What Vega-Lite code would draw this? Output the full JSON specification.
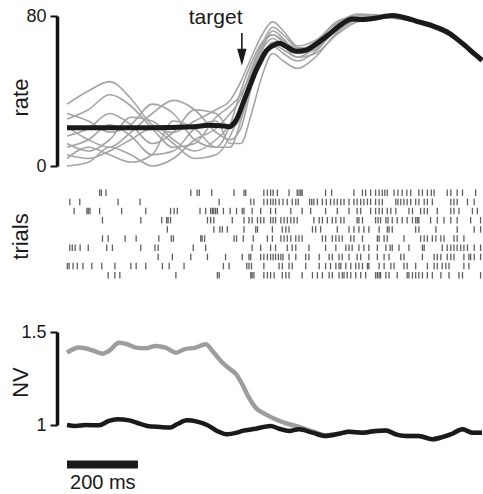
{
"$schema": "https://vega.github.io/schema/vega-lite/v6.json",
"padding": {"left": 9, "top": 5, "right": 0, "bottom": 5},
"bounds": "flush",
"spacing": 20,
"config": {
  "view": {"stroke": null},
  "font": "Liberation Sans",
  "axisY": {"domainWidth": 3.5, "domainColor": "#111", "domainCap": "butt", "tickColor": "#111", "tickWidth": 2, "tickSize": 7, "offset": 10, "grid": false,
    "labelFont": "Liberation Sans", "labelFontSize": 18, "labelColor": "#1a1a1a", "labelPadding": 4,
    "titleFont": "Liberation Sans", "titleFontSize": 22, "titleFontWeight": "normal", "titleColor": "#1a1a1a", "titleX": -30, "titleBaseline": "alphabetic"}
},
"datasets": {
  "gray": [
    {"id":1,"t":0,"v":33},{"id":1,"t":60,"v":40},{"id":1,"t":120,"v":45},{"id":1,"t":180,"v":36},{"id":1,"t":240,"v":22},{"id":1,"t":300,"v":18},{"id":1,"t":360,"v":24},{"id":1,"t":420,"v":30},{"id":1,"t":460,"v":35},{"id":1,"t":490,"v":45},{"id":1,"t":520,"v":58},{"id":1,"t":550,"v":70},{"id":1,"t":580,"v":77},{"id":1,"t":610,"v":72},{"id":1,"t":650,"v":64},{"id":1,"t":700,"v":67},{"id":1,"t":760,"v":76},{"id":1,"t":820,"v":81},{"id":1,"t":900,"v":80},{"id":1,"t":1000,"v":77},{"id":1,"t":1100,"v":68},{"id":1,"t":1170,"v":57},
    {"id":2,"t":0,"v":28},{"id":2,"t":60,"v":24},{"id":2,"t":120,"v":18},{"id":2,"t":180,"v":22},{"id":2,"t":240,"v":33},{"id":2,"t":300,"v":28},{"id":2,"t":360,"v":14},{"id":2,"t":420,"v":10},{"id":2,"t":460,"v":22},{"id":2,"t":490,"v":40},{"id":2,"t":520,"v":55},{"id":2,"t":550,"v":66},{"id":2,"t":580,"v":70},{"id":2,"t":610,"v":66},{"id":2,"t":650,"v":62},{"id":2,"t":700,"v":64},{"id":2,"t":760,"v":74},{"id":2,"t":820,"v":79},{"id":2,"t":900,"v":80},{"id":2,"t":1000,"v":77},{"id":2,"t":1100,"v":68},{"id":2,"t":1170,"v":56},
    {"id":3,"t":0,"v":25},{"id":3,"t":60,"v":30},{"id":3,"t":120,"v":38},{"id":3,"t":180,"v":32},{"id":3,"t":240,"v":20},{"id":3,"t":300,"v":10},{"id":3,"t":360,"v":12},{"id":3,"t":420,"v":26},{"id":3,"t":460,"v":32},{"id":3,"t":490,"v":38},{"id":3,"t":520,"v":50},{"id":3,"t":550,"v":60},{"id":3,"t":580,"v":65},{"id":3,"t":610,"v":62},{"id":3,"t":650,"v":58},{"id":3,"t":700,"v":63},{"id":3,"t":760,"v":72},{"id":3,"t":820,"v":78},{"id":3,"t":900,"v":80},{"id":3,"t":1000,"v":76},{"id":3,"t":1100,"v":67},{"id":3,"t":1170,"v":56},
    {"id":4,"t":0,"v":21},{"id":4,"t":60,"v":14},{"id":4,"t":120,"v":10},{"id":4,"t":180,"v":18},{"id":4,"t":240,"v":28},{"id":4,"t":300,"v":35},{"id":4,"t":360,"v":30},{"id":4,"t":420,"v":18},{"id":4,"t":460,"v":14},{"id":4,"t":490,"v":20},{"id":4,"t":520,"v":42},{"id":4,"t":550,"v":58},{"id":4,"t":580,"v":66},{"id":4,"t":610,"v":66},{"id":4,"t":650,"v":62},{"id":4,"t":700,"v":66},{"id":4,"t":760,"v":77},{"id":4,"t":820,"v":80},{"id":4,"t":900,"v":80.5},{"id":4,"t":1000,"v":77},{"id":4,"t":1100,"v":68},{"id":4,"t":1170,"v":56},
    {"id":5,"t":0,"v":16},{"id":5,"t":60,"v":20},{"id":5,"t":120,"v":28},{"id":5,"t":180,"v":22},{"id":5,"t":240,"v":12},{"id":5,"t":300,"v":18},{"id":5,"t":360,"v":30},{"id":5,"t":420,"v":28},{"id":5,"t":460,"v":20},{"id":5,"t":490,"v":26},{"id":5,"t":520,"v":45},{"id":5,"t":550,"v":62},{"id":5,"t":580,"v":72},{"id":5,"t":610,"v":68},{"id":5,"t":650,"v":60},{"id":5,"t":700,"v":62},{"id":5,"t":760,"v":73},{"id":5,"t":820,"v":79},{"id":5,"t":900,"v":79},{"id":5,"t":1000,"v":76},{"id":5,"t":1100,"v":67},{"id":5,"t":1170,"v":56},
    {"id":6,"t":0,"v":12},{"id":6,"t":60,"v":8},{"id":6,"t":120,"v":14},{"id":6,"t":180,"v":26},{"id":6,"t":240,"v":24},{"id":6,"t":300,"v":14},{"id":6,"t":360,"v":8},{"id":6,"t":420,"v":14},{"id":6,"t":460,"v":22},{"id":6,"t":490,"v":30},{"id":6,"t":520,"v":48},{"id":6,"t":550,"v":62},{"id":6,"t":580,"v":68},{"id":6,"t":610,"v":64},{"id":6,"t":650,"v":58},{"id":6,"t":700,"v":60},{"id":6,"t":760,"v":70},{"id":6,"t":820,"v":77},{"id":6,"t":900,"v":79},{"id":6,"t":1000,"v":77},{"id":6,"t":1100,"v":68},{"id":6,"t":1170,"v":56},
    {"id":7,"t":0,"v":10},{"id":7,"t":60,"v":14},{"id":7,"t":120,"v":22},{"id":7,"t":180,"v":16},{"id":7,"t":240,"v":6},{"id":7,"t":300,"v":8},{"id":7,"t":360,"v":20},{"id":7,"t":420,"v":24},{"id":7,"t":460,"v":12},{"id":7,"t":490,"v":12},{"id":7,"t":520,"v":28},{"id":7,"t":550,"v":48},{"id":7,"t":580,"v":60},{"id":7,"t":610,"v":56},{"id":7,"t":650,"v":52},{"id":7,"t":700,"v":58},{"id":7,"t":760,"v":71},{"id":7,"t":820,"v":78},{"id":7,"t":900,"v":79},{"id":7,"t":1000,"v":76},{"id":7,"t":1100,"v":67},{"id":7,"t":1170,"v":56},
    {"id":8,"t":0,"v":6},{"id":8,"t":60,"v":4},{"id":8,"t":120,"v":8},{"id":8,"t":180,"v":14},{"id":8,"t":240,"v":20},{"id":8,"t":300,"v":12},{"id":8,"t":360,"v":4},{"id":8,"t":420,"v":6},{"id":8,"t":460,"v":16},{"id":8,"t":490,"v":30},{"id":8,"t":520,"v":50},{"id":8,"t":550,"v":64},{"id":8,"t":580,"v":70},{"id":8,"t":610,"v":67},{"id":8,"t":650,"v":62},{"id":8,"t":700,"v":64},{"id":8,"t":760,"v":74},{"id":8,"t":820,"v":79},{"id":8,"t":900,"v":80},{"id":8,"t":1000,"v":77},{"id":8,"t":1100,"v":68},{"id":8,"t":1170,"v":56},
    {"id":9,"t":0,"v":4},{"id":9,"t":60,"v":10},{"id":9,"t":120,"v":6},{"id":9,"t":180,"v":2},{"id":9,"t":240,"v":6},{"id":9,"t":300,"v":24},{"id":9,"t":360,"v":20},{"id":9,"t":420,"v":10},{"id":9,"t":460,"v":10},{"id":9,"t":490,"v":24},{"id":9,"t":520,"v":44},{"id":9,"t":550,"v":58},{"id":9,"t":580,"v":64},{"id":9,"t":610,"v":60},{"id":9,"t":650,"v":56},{"id":9,"t":700,"v":61},{"id":9,"t":760,"v":73},{"id":9,"t":820,"v":78},{"id":9,"t":900,"v":79},{"id":9,"t":1000,"v":76},{"id":9,"t":1100,"v":67},{"id":9,"t":1170,"v":56},
    {"id":10,"t":0,"v":0},{"id":10,"t":60,"v":2},{"id":10,"t":120,"v":10},{"id":10,"t":180,"v":6},{"id":10,"t":240,"v":0},{"id":10,"t":300,"v":4},{"id":10,"t":360,"v":14},{"id":10,"t":420,"v":20},{"id":10,"t":460,"v":28},{"id":10,"t":490,"v":36},{"id":10,"t":520,"v":52},{"id":10,"t":550,"v":65},{"id":10,"t":580,"v":74},{"id":10,"t":610,"v":70},{"id":10,"t":650,"v":63},{"id":10,"t":700,"v":64},{"id":10,"t":760,"v":75},{"id":10,"t":820,"v":80},{"id":10,"t":900,"v":80},{"id":10,"t":1000,"v":77},{"id":10,"t":1100,"v":68},{"id":10,"t":1170,"v":56}
  ],
  "mean": [
    {"t":0,"v":20.4},{"t":231,"v":20.4},{"t":358,"v":20.9},{"t":400,"v":21.7},{"t":434,"v":21.5},{"t":457,"v":21.0},{"t":476,"v":24.2},{"t":499,"v":34.9},{"t":516,"v":43},{"t":533,"v":51},{"t":547,"v":56.4},{"t":561,"v":61.2},{"t":578,"v":63.9},{"t":598,"v":65.5},{"t":617,"v":63.9},{"t":646,"v":61.2},{"t":674,"v":61.8},{"t":702,"v":65},{"t":739,"v":70.3},{"t":775,"v":75.7},{"t":803,"v":78.4},{"t":832,"v":78.1},{"t":871,"v":78.9},{"t":916,"v":80.3},{"t":944,"v":79.5},{"t":984,"v":77.3},{"t":1040,"v":74.1},{"t":1077,"v":70.9},{"t":1114,"v":65.5},{"t":1153,"v":59.1},{"t":1170,"v":56.4}
  ],
  "nv": [
    {"s":"gray","t":0,"v":1.389},{"s":"gray","t":34,"v":1.416},{"s":"gray","t":71,"v":1.402},{"s":"gray","t":100,"v":1.383},{"s":"gray","t":118,"v":1.398},{"s":"gray","t":147,"v":1.442},{"s":"gray","t":170,"v":1.434},{"s":"gray","t":194,"v":1.416},{"s":"gray","t":222,"v":1.412},{"s":"gray","t":250,"v":1.425},{"s":"gray","t":278,"v":1.416},{"s":"gray","t":307,"v":1.389},{"s":"gray","t":330,"v":1.407},{"s":"gray","t":363,"v":1.416},{"s":"gray","t":391,"v":1.434},{"s":"gray","t":410,"v":1.398},{"s":"gray","t":438,"v":1.335},{"s":"gray","t":460,"v":1.3},{"s":"gray","t":476,"v":1.275},{"s":"gray","t":494,"v":1.219},{"s":"gray","t":513,"v":1.147},{"s":"gray","t":532,"v":1.093},{"s":"gray","t":560,"v":1.057},{"s":"gray","t":588,"v":1.031},{"s":"gray","t":621,"v":1.007},{"s":"gray","t":654,"v":0.99},{"s":"gray","t":692,"v":0.966},{"s":"gray","t":729,"v":0.945},{"s":"gray","t":767,"v":0.953},{"s":"gray","t":795,"v":0.964},{"s":"gray","t":833,"v":0.959},{"s":"gray","t":870,"v":0.968},{"s":"gray","t":899,"v":0.971},{"s":"gray","t":927,"v":0.95},{"s":"gray","t":955,"v":0.941},{"s":"gray","t":992,"v":0.941},{"s":"gray","t":1030,"v":0.923},{"s":"gray","t":1058,"v":0.935},{"s":"gray","t":1086,"v":0.953},{"s":"gray","t":1115,"v":0.977},{"s":"gray","t":1143,"v":0.959},{"s":"gray","t":1170,"v":0.959},
    {"s":"black","t":0,"v":1.0},{"s":"black","t":24,"v":0.995},{"s":"black","t":52,"v":1.0},{"s":"black","t":90,"v":0.998},{"s":"black","t":118,"v":1.022},{"s":"black","t":142,"v":1.031},{"s":"black","t":175,"v":1.025},{"s":"black","t":197,"v":1.012},{"s":"black","t":226,"v":0.995},{"s":"black","t":263,"v":0.989},{"s":"black","t":291,"v":0.986},{"s":"black","t":310,"v":1.004},{"s":"black","t":338,"v":1.025},{"s":"black","t":367,"v":1.018},{"s":"black","t":395,"v":1.0},{"s":"black","t":423,"v":0.968},{"s":"black","t":451,"v":0.95},{"s":"black","t":479,"v":0.959},{"s":"black","t":494,"v":0.968},{"s":"black","t":532,"v":0.98},{"s":"black","t":574,"v":0.995},{"s":"black","t":598,"v":0.98},{"s":"black","t":626,"v":0.968},{"s":"black","t":654,"v":0.977},{"s":"black","t":692,"v":0.959},{"s":"black","t":729,"v":0.941},{"s":"black","t":767,"v":0.953},{"s":"black","t":795,"v":0.964},{"s":"black","t":833,"v":0.959},{"s":"black","t":870,"v":0.968},{"s":"black","t":899,"v":0.971},{"s":"black","t":927,"v":0.95},{"s":"black","t":955,"v":0.941},{"s":"black","t":992,"v":0.941},{"s":"black","t":1030,"v":0.923},{"s":"black","t":1058,"v":0.935},{"s":"black","t":1086,"v":0.953},{"s":"black","t":1115,"v":0.977},{"s":"black","t":1143,"v":0.959},{"s":"black","t":1170,"v":0.959}
  ],
  "spikes": [
    {"k":1,"t":92},{"k":1,"t":97},{"k":1,"t":110},{"k":1,"t":349},{"k":1,"t":367},{"k":1,"t":373},{"k":1,"t":408},{"k":1,"t":471},{"k":1,"t":499},{"k":1,"t":504},{"k":1,"t":555},{"k":1,"t":565},{"k":1,"t":574},{"k":1,"t":581},{"k":1,"t":593},{"k":1,"t":626},{"k":1,"t":649},{"k":1,"t":654},{"k":1,"t":659},{"k":1,"t":663},{"k":1,"t":729},{"k":1,"t":746},{"k":1,"t":809},{"k":1,"t":833},{"k":1,"t":842},{"k":1,"t":856},{"k":1,"t":870},{"k":1,"t":880},{"k":1,"t":889},{"k":1,"t":896},{"k":1,"t":903},{"k":1,"t":922},{"k":1,"t":933},{"k":1,"t":945},{"k":1,"t":958},{"k":1,"t":969},{"k":1,"t":992},{"k":1,"t":1002},{"k":1,"t":1016},{"k":1,"t":1027},{"k":1,"t":1035},{"k":1,"t":1072},{"k":1,"t":1082},{"k":1,"t":1100},{"k":1,"t":1115},{"k":1,"t":1152},
    {"k":2,"t":8},{"k":2,"t":36},{"k":2,"t":144},{"k":2,"t":206},{"k":2,"t":429},{"k":2,"t":518},{"k":2,"t":527},{"k":2,"t":555},{"k":2,"t":565},{"k":2,"t":574},{"k":2,"t":581},{"k":2,"t":588},{"k":2,"t":598},{"k":2,"t":609},{"k":2,"t":621},{"k":2,"t":635},{"k":2,"t":645},{"k":2,"t":652},{"k":2,"t":684},{"k":2,"t":690},{"k":2,"t":696},{"k":2,"t":706},{"k":2,"t":720},{"k":2,"t":731},{"k":2,"t":743},{"k":2,"t":753},{"k":2,"t":762},{"k":2,"t":772},{"k":2,"t":781},{"k":2,"t":795},{"k":2,"t":809},{"k":2,"t":818},{"k":2,"t":828},{"k":2,"t":837},{"k":2,"t":847},{"k":2,"t":856},{"k":2,"t":870},{"k":2,"t":880},{"k":2,"t":889},{"k":2,"t":927},{"k":2,"t":933},{"k":2,"t":941},{"k":2,"t":950},{"k":2,"t":959},{"k":2,"t":969},{"k":2,"t":983},{"k":2,"t":992},{"k":2,"t":1007},{"k":2,"t":1016},{"k":2,"t":1030},{"k":2,"t":1082},{"k":2,"t":1091},{"k":2,"t":1100},{"k":2,"t":1129},{"k":2,"t":1148},
    {"k":3,"t":20},{"k":3,"t":56},{"k":3,"t":60},{"k":3,"t":65},{"k":3,"t":92},{"k":3,"t":154},{"k":3,"t":222},{"k":3,"t":292},{"k":3,"t":302},{"k":3,"t":311},{"k":3,"t":375},{"k":3,"t":391},{"k":3,"t":405},{"k":3,"t":410},{"k":3,"t":414},{"k":3,"t":419},{"k":3,"t":424},{"k":3,"t":441},{"k":3,"t":460},{"k":3,"t":478},{"k":3,"t":494},{"k":3,"t":499},{"k":3,"t":522},{"k":3,"t":546},{"k":3,"t":574},{"k":3,"t":588},{"k":3,"t":631},{"k":3,"t":663},{"k":3,"t":687},{"k":3,"t":729},{"k":3,"t":762},{"k":3,"t":795},{"k":3,"t":818},{"k":3,"t":828},{"k":3,"t":856},{"k":3,"t":870},{"k":3,"t":880},{"k":3,"t":889},{"k":3,"t":903},{"k":3,"t":913},{"k":3,"t":927},{"k":3,"t":964},{"k":3,"t":974},{"k":3,"t":997},{"k":3,"t":1007},{"k":3,"t":1016},{"k":3,"t":1044},{"k":3,"t":1082},{"k":3,"t":1091},{"k":3,"t":1105},{"k":3,"t":1143},{"k":3,"t":1157},
    {"k":4,"t":100},{"k":4,"t":208},{"k":4,"t":267},{"k":4,"t":281},{"k":4,"t":285},{"k":4,"t":292},{"k":4,"t":396},{"k":4,"t":405},{"k":4,"t":414},{"k":4,"t":466},{"k":4,"t":499},{"k":4,"t":513},{"k":4,"t":522},{"k":4,"t":537},{"k":4,"t":546},{"k":4,"t":555},{"k":4,"t":574},{"k":4,"t":581},{"k":4,"t":588},{"k":4,"t":603},{"k":4,"t":612},{"k":4,"t":621},{"k":4,"t":631},{"k":4,"t":640},{"k":4,"t":649},{"k":4,"t":696},{"k":4,"t":711},{"k":4,"t":720},{"k":4,"t":734},{"k":4,"t":748},{"k":4,"t":758},{"k":4,"t":772},{"k":4,"t":781},{"k":4,"t":818},{"k":4,"t":823},{"k":4,"t":833},{"k":4,"t":870},{"k":4,"t":877},{"k":4,"t":884},{"k":4,"t":899},{"k":4,"t":905},{"k":4,"t":917},{"k":4,"t":931},{"k":4,"t":945},{"k":4,"t":959},{"k":4,"t":974},{"k":4,"t":983},{"k":4,"t":988},{"k":4,"t":992},{"k":4,"t":1025},{"k":4,"t":1044},{"k":4,"t":1063},{"k":4,"t":1082},{"k":4,"t":1100},{"k":4,"t":1138},{"k":4,"t":1166},
    {"k":5,"t":283},{"k":5,"t":414},{"k":5,"t":431},{"k":5,"t":438},{"k":5,"t":452},{"k":5,"t":499},{"k":5,"t":532},{"k":5,"t":537},{"k":5,"t":579},{"k":5,"t":607},{"k":5,"t":617},{"k":5,"t":626},{"k":5,"t":692},{"k":5,"t":701},{"k":5,"t":715},{"k":5,"t":762},{"k":5,"t":795},{"k":5,"t":809},{"k":5,"t":823},{"k":5,"t":837},{"k":5,"t":851},{"k":5,"t":880},{"k":5,"t":903},{"k":5,"t":908},{"k":5,"t":917},{"k":5,"t":983},{"k":5,"t":992},{"k":5,"t":1040},{"k":5,"t":1100},{"k":5,"t":1148},{"k":5,"t":1166},
    {"k":6,"t":100},{"k":6,"t":116},{"k":6,"t":164},{"k":6,"t":195},{"k":6,"t":259},{"k":6,"t":294},{"k":6,"t":300},{"k":6,"t":377},{"k":6,"t":381},{"k":6,"t":388},{"k":6,"t":471},{"k":6,"t":478},{"k":6,"t":497},{"k":6,"t":525},{"k":6,"t":565},{"k":6,"t":579},{"k":6,"t":603},{"k":6,"t":612},{"k":6,"t":621},{"k":6,"t":631},{"k":6,"t":645},{"k":6,"t":654},{"k":6,"t":663},{"k":6,"t":720},{"k":6,"t":729},{"k":6,"t":748},{"k":6,"t":758},{"k":6,"t":767},{"k":6,"t":776},{"k":6,"t":800},{"k":6,"t":809},{"k":6,"t":833},{"k":6,"t":875},{"k":6,"t":880},{"k":6,"t":894},{"k":6,"t":903},{"k":6,"t":950},{"k":6,"t":997},{"k":6,"t":1007},{"k":6,"t":1016},{"k":6,"t":1030},{"k":6,"t":1040},{"k":6,"t":1054},{"k":6,"t":1063},{"k":6,"t":1091},{"k":6,"t":1100},{"k":6,"t":1119},
    {"k":7,"t":8},{"k":7,"t":15},{"k":7,"t":23},{"k":7,"t":37},{"k":7,"t":60},{"k":7,"t":112},{"k":7,"t":128},{"k":7,"t":208},{"k":7,"t":248},{"k":7,"t":257},{"k":7,"t":356},{"k":7,"t":391},{"k":7,"t":522},{"k":7,"t":546},{"k":7,"t":574},{"k":7,"t":588},{"k":7,"t":621},{"k":7,"t":635},{"k":7,"t":645},{"k":7,"t":682},{"k":7,"t":729},{"k":7,"t":758},{"k":7,"t":786},{"k":7,"t":795},{"k":7,"t":804},{"k":7,"t":823},{"k":7,"t":837},{"k":7,"t":851},{"k":7,"t":875},{"k":7,"t":899},{"k":7,"t":911},{"k":7,"t":917},{"k":7,"t":936},{"k":7,"t":964},{"k":7,"t":1002},{"k":7,"t":1007},{"k":7,"t":1058},{"k":7,"t":1072},{"k":7,"t":1082},{"k":7,"t":1091},{"k":7,"t":1100},{"k":7,"t":1110},{"k":7,"t":1119},{"k":7,"t":1129},{"k":7,"t":1148},{"k":7,"t":1166},
    {"k":8,"t":257},{"k":8,"t":297},{"k":8,"t":349},{"k":8,"t":396},{"k":8,"t":447},{"k":8,"t":494},{"k":8,"t":513},{"k":8,"t":518},{"k":8,"t":546},{"k":8,"t":555},{"k":8,"t":565},{"k":8,"t":574},{"k":8,"t":581},{"k":8,"t":588},{"k":8,"t":596},{"k":8,"t":603},{"k":8,"t":609},{"k":8,"t":626},{"k":8,"t":645},{"k":8,"t":673},{"k":8,"t":682},{"k":8,"t":711},{"k":8,"t":739},{"k":8,"t":748},{"k":8,"t":767},{"k":8,"t":776},{"k":8,"t":795},{"k":8,"t":818},{"k":8,"t":828},{"k":8,"t":851},{"k":8,"t":875},{"k":8,"t":894},{"k":8,"t":908},{"k":8,"t":941},{"k":8,"t":950},{"k":8,"t":1002},{"k":8,"t":1035},{"k":8,"t":1044},{"k":8,"t":1054},{"k":8,"t":1072},{"k":8,"t":1082},{"k":8,"t":1091},{"k":8,"t":1119},{"k":8,"t":1133},{"k":8,"t":1138},{"k":8,"t":1148},{"k":8,"t":1166},
    {"k":9,"t":1},{"k":9,"t":6},{"k":9,"t":17},{"k":9,"t":29},{"k":9,"t":45},{"k":9,"t":70},{"k":9,"t":98},{"k":9,"t":135},{"k":9,"t":180},{"k":9,"t":195},{"k":9,"t":222},{"k":9,"t":269},{"k":9,"t":288},{"k":9,"t":330},{"k":9,"t":441},{"k":9,"t":457},{"k":9,"t":507},{"k":9,"t":513},{"k":9,"t":520},{"k":9,"t":555},{"k":9,"t":598},{"k":9,"t":607},{"k":9,"t":626},{"k":9,"t":635},{"k":9,"t":673},{"k":9,"t":711},{"k":9,"t":729},{"k":9,"t":743},{"k":9,"t":758},{"k":9,"t":767},{"k":9,"t":772},{"k":9,"t":786},{"k":9,"t":800},{"k":9,"t":814},{"k":9,"t":823},{"k":9,"t":833},{"k":9,"t":847},{"k":9,"t":851},{"k":9,"t":880},{"k":9,"t":894},{"k":9,"t":913},{"k":9,"t":922},{"k":9,"t":950},{"k":9,"t":959},{"k":9,"t":983},{"k":9,"t":1016},{"k":9,"t":1035},{"k":9,"t":1044},{"k":9,"t":1058},{"k":9,"t":1068},{"k":9,"t":1077},{"k":9,"t":1119},{"k":9,"t":1133},
    {"k":10,"t":116},{"k":10,"t":135},{"k":10,"t":149},{"k":10,"t":307},{"k":10,"t":424},{"k":10,"t":429},{"k":10,"t":518},{"k":10,"t":522},{"k":10,"t":527},{"k":10,"t":555},{"k":10,"t":565},{"k":10,"t":574},{"k":10,"t":584},{"k":10,"t":607},{"k":10,"t":617},{"k":10,"t":626},{"k":10,"t":663},{"k":10,"t":692},{"k":10,"t":706},{"k":10,"t":720},{"k":10,"t":739},{"k":10,"t":748},{"k":10,"t":767},{"k":10,"t":776},{"k":10,"t":781},{"k":10,"t":790},{"k":10,"t":800},{"k":10,"t":814},{"k":10,"t":828},{"k":10,"t":842},{"k":10,"t":870},{"k":10,"t":875},{"k":10,"t":880},{"k":10,"t":884},{"k":10,"t":899},{"k":10,"t":908},{"k":10,"t":931},{"k":10,"t":959},{"k":10,"t":964},{"k":10,"t":974},{"k":10,"t":983},{"k":10,"t":992},{"k":10,"t":1002},{"k":10,"t":1016},{"k":10,"t":1030},{"k":10,"t":1054},{"k":10,"t":1077},{"k":10,"t":1105},{"k":10,"t":1115},{"k":10,"t":1166}
  ]
},
"vconcat": [
  {
    "width": 415, "height": 150,
    "encoding": {"x": {"field": "t", "type": "quantitative", "scale": {"domain": [0, 1170], "nice": false, "zero": false}, "axis": null}},
    "layer": [
      {"data": {"name": "gray"}, "mark": {"type": "line", "color": "#a5a5a5", "strokeWidth": 1.6, "interpolate": "monotone"},
       "encoding": {"y": {"field": "v", "type": "quantitative", "title": "rate", "scale": {"domain": [0, 80], "nice": false, "zero": false}, "axis": {"values": [0, 80], "titleY": 81}}, "detail": {"field": "id", "type": "nominal"}}},
      {"data": {"name": "mean"}, "mark": {"type": "line", "color": "#1a1a1a", "strokeWidth": 5, "interpolate": "monotone"},
       "encoding": {"y": {"field": "v", "type": "quantitative", "title": "rate"}}},
      {"data": {"values": [{"t": 419, "v": 76, "label": "target"}]}, "mark": {"type": "text", "fontSize": 21, "baseline": "alphabetic", "align": "center", "color": "#1a1a1a", "font": "Liberation Sans"},
       "encoding": {"y": {"field": "v", "type": "quantitative", "title": "rate"}, "text": {"field": "label"}}},
      {"data": {"values": [{"t": 493, "v": 71, "v2": 60}]}, "mark": {"type": "rule", "strokeWidth": 1.6, "color": "#1a1a1a"},
       "encoding": {"y": {"field": "v", "type": "quantitative", "title": "rate"}, "y2": {"field": "v2"}}},
      {"data": {"values": [{"t": 493, "v": 58}]}, "mark": {"type": "point", "shape": "M-0.55,-1L0.55,-1L0,1Z", "filled": true, "size": 289, "color": "#1a1a1a", "opacity": 1},
       "encoding": {"y": {"field": "v", "type": "quantitative", "title": "rate"}}}
    ]
  },
  {
    "width": 415, "height": 126,
    "data": {"name": "spikes"},
    "mark": {"type": "tick", "orient": "vertical", "thickness": 1.3, "size": 6.5, "color": "#1a1a1a"},
    "encoding": {
      "x": {"field": "t", "type": "quantitative", "scale": {"domain": [0, 1170], "nice": false, "zero": false}, "axis": null},
      "y": {"field": "k", "type": "quantitative", "title": "trials", "scale": {"domain": [0.27, 14.0], "reverse": true, "nice": false, "zero": false}, "axis": {"domain": false, "ticks": false, "labels": false, "titleY": 50}}
    }
  },
  {
    "width": 415, "height": 93,
    "encoding": {"x": {"field": "t", "type": "quantitative", "scale": {"domain": [0, 1170], "nice": false, "zero": false}, "axis": null}},
    "layer": [
      {"data": {"name": "nv"}, "transform": [{"filter": "datum.s == 'gray'"}], "mark": {"type": "line", "color": "#9d9d9d", "strokeWidth": 4.5, "interpolate": "monotone"},
       "encoding": {"y": {"field": "v", "type": "quantitative", "title": "NV", "scale": {"domain": [1, 1.5], "nice": false, "zero": false}, "axis": {"values": [1, 1.5], "format": "~g", "titleY": 50}}}},
      {"data": {"name": "nv"}, "transform": [{"filter": "datum.s == 'black'"}], "mark": {"type": "line", "color": "#1a1a1a", "strokeWidth": 4.5, "interpolate": "monotone"},
       "encoding": {"y": {"field": "v", "type": "quantitative", "title": "NV"}}},
      {"data": {"values": [{"t": 0, "t2": 200, "v": 0.788}]}, "mark": {"type": "rule", "strokeWidth": 8, "color": "#1a1a1a"},
       "encoding": {"x2": {"field": "t2"}, "y": {"field": "v", "type": "quantitative", "title": "NV"}}},
      {"data": {"values": [{"t": 101, "v": 0.656, "label": "200 ms"}]}, "mark": {"type": "text", "fontSize": 20, "baseline": "alphabetic", "align": "center", "color": "#1a1a1a", "font": "Liberation Sans"},
       "encoding": {"y": {"field": "v", "type": "quantitative", "title": "NV"}, "text": {"field": "label"}}}
    ]
  }
]
}
